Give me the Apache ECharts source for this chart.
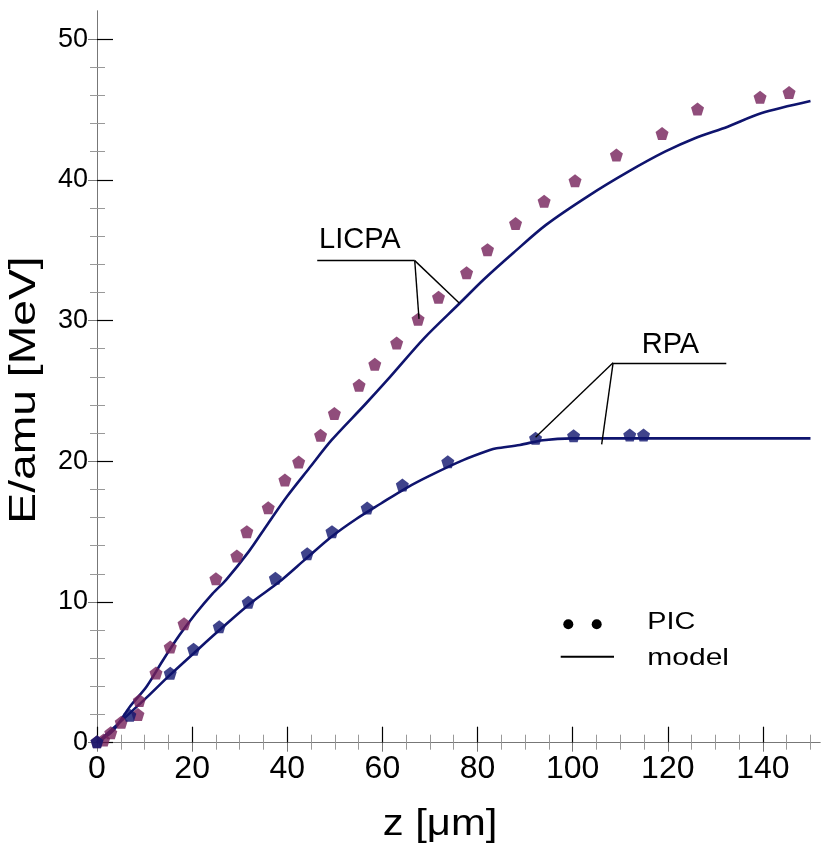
<!DOCTYPE html>
<html>
<head>
<meta charset="utf-8">
<script src="https://cdn.jsdelivr.net/npm/echarts@6/dist/echarts.min.js"></script>
<style>html,body{margin:0;padding:0;background:#fff}#c{width:823px;height:845px}</style>
</head>
<body>
<div id="c"></div>
<script>
// ---- data ----
var xTicks = [0, 20, 40, 60, 80, 100, 120, 140];
var yTicks = [0, 10, 20, 30, 40, 50];
var licpaPIC_z = [0, 1.4, 2.9, 5.1, 8.6, 8.9, 12.4, 15.4, 18.3, 25.0, 29.4, 31.5, 36.0, 39.5, 42.4, 47.0, 49.9, 55.1, 58.4, 63.0, 67.5, 71.8, 77.7, 82.1, 88.0, 94.0, 100.5, 109.2, 118.8, 126.25, 139.4, 145.5];
var licpaPIC_E = [0.07, 0.2, 0.7, 1.45, 2.0, 3.0, 4.95, 6.8, 8.45, 11.65, 13.27, 15.0, 16.7, 18.67, 19.95, 21.85, 23.4, 25.4, 26.9, 28.4, 30.1, 31.66, 33.4, 35.04, 36.9, 38.48, 39.94, 41.77, 43.3, 45.04, 45.87, 46.2];
var rpaPIC_z = [0, 6.9, 15.4, 20.3, 25.7, 31.8, 37.5, 44.2, 49.4, 56.8, 64.2, 73.75, 92.2, 100.2, 112.0, 114.9];
var rpaPIC_E = [0.07, 1.95, 4.93, 6.64, 8.24, 9.98, 11.68, 13.43, 15.0, 16.68, 18.32, 19.97, 21.63, 21.82, 21.87, 21.87];
var licpaModel_z = [0, 3.5, 6.9, 10.4, 13.9, 17.35, 20.8, 24.3, 27.1, 31.9, 35.9, 39.9, 44.6, 49.3, 56.25, 61.1, 68.75, 76.25, 81.25, 87.5, 94.4, 103.5, 111.8, 119.4, 125.7, 132.6, 139.6, 150];
var licpaModel_E = [0, 0.9, 2.56, 3.98, 5.88, 7.65, 9.2, 10.6, 11.56, 13.58, 15.55, 17.48, 19.5, 21.5, 24.0, 25.8, 28.74, 31.23, 32.9, 34.8, 36.8, 38.9, 40.6, 42.0, 42.96, 43.78, 44.73, 45.6];
var rpaModel_z = [0, 3, 6.9, 10.4, 15.3, 20.8, 26.4, 32.6, 38.2, 44, 49.3, 54.5, 59.7, 65, 70.1, 77.1, 82.6, 84, 88.9, 93.75, 100, 150];
var rpaModel_E = [0, 0.9, 2.1, 3.2, 4.8, 6.5, 8.2, 10.0, 11.4, 13.1, 14.64, 15.9, 17.0, 18.1, 19.0, 20.1, 20.8, 20.92, 21.16, 21.5, 21.63, 21.63];
// annotation connectors (data coordinates)
var licpaLabel = {text: 'LICPA', z: 46.3, E: 34.26, zEnd: 66.8, branch: 66.8, targets: [[67.7, 30.12], [76.2, 31.23]]};
var rpaLabel = {text: 'RPA', z: 108.5, E: 27.0, zEnd: 132.3, branch: 108.5, targets: [[92.2, 21.7], [106.1, 21.2]]};

function zip(a, b) { return a.map(function (v, i) { return [v, b[i]]; }); }

var PURPLE = '#74205a', BLUE = '#0f146e';
var pent = 'path://M0,-10 L9.51,-3.09 L5.88,8.09 L-5.88,8.09 L-9.51,-3.09 Z';

function connectors(L) {
  var d = [[{coord: [L.z, L.E]}, {coord: [L.zEnd, L.E]}]];
  L.targets.forEach(function (t) { d.push([{coord: [L.branch, L.E]}, {coord: t}]); });
  return d;
}

var chart = echarts.init(document.getElementById('c'), null, {renderer: 'canvas'});
var FONT = '"Liberation Sans", Arial, sans-serif';
var NARROW = '"Liberation Sans Narrow", "Arial Narrow", "Liberation Sans", sans-serif';
var option = {
  animation: false,
  grid: {left: 97, top: 11, width: 729.6, height: 731.7, containLabel: false},
  xAxis: [
    {type: 'value', position: 'bottom', min: 0, max: 152, interval: 20, splitLine: {show: false},
      axisLine: {lineStyle: {color: '#777'}},
      axisTick: {show: true, inside: true, length: 16, customValues: xTicks, lineStyle: {color: '#000', width: 1.2}},
      minorTick: {show: true, splitNumber: 4, length: 8, lineStyle: {color: '#999'}},
      axisLabel: {fontSize: 32, color: '#000', fontFamily: NARROW, margin: 10,
        formatter: function (v) { return xTicks.indexOf(v) >= 0 ? String(v) : ''; }}},
    {type: 'value', position: 'top', min: 0, max: 152, interval: 20, splitLine: {show: false},
      axisLine: {lineStyle: {color: '#777'}},
      axisTick: {show: true, inside: true, length: 9, customValues: xTicks, lineStyle: {color: '#777'}},
      minorTick: {show: true, splitNumber: 4, length: 7, lineStyle: {color: '#999'}},
      axisLabel: {show: false}}
  ],
  yAxis: [
    {type: 'value', position: 'left', min: 0, max: 52, interval: 10, splitLine: {show: false},
      axisLine: {lineStyle: {color: '#777'}},
      axisTick: {show: true, inside: true, length: 16, customValues: yTicks, lineStyle: {color: '#000', width: 1.2}},
      minorTick: {show: true, splitNumber: 5, length: 8, lineStyle: {color: '#999'}},
      axisLabel: {fontSize: 27, color: '#000', fontFamily: FONT, margin: 9,
        formatter: function (v) { return yTicks.indexOf(v) >= 0 ? String(v) : ''; }}},
    {type: 'value', position: 'right', min: 0, max: 52, interval: 10, splitLine: {show: false},
      axisLine: {lineStyle: {color: '#777'}},
      axisTick: {show: true, inside: true, length: 9, customValues: yTicks, lineStyle: {color: '#777'}},
      minorTick: {show: true, splitNumber: 5, length: 7, lineStyle: {color: '#999'}},
      axisLabel: {show: false}}
  ],
  series: [
    {type: 'line', data: zip(licpaModel_z, licpaModel_E), symbol: 'none', smooth: 0.3,
      lineStyle: {color: BLUE, width: 2.6}, z: 2,
      markLine: {silent: true, symbol: 'none', label: {show: false},
        lineStyle: {color: '#000', width: 1.4, type: 'solid'}, data: connectors(licpaLabel)}},
    {type: 'line', data: zip(rpaModel_z, rpaModel_E), symbol: 'none', smooth: 0.3,
      lineStyle: {color: BLUE, width: 2.6}, z: 2,
      markLine: {silent: true, symbol: 'none', label: {show: false},
        lineStyle: {color: '#000', width: 1.4, type: 'solid'}, data: connectors(rpaLabel)}},
    {type: 'scatter', data: zip(licpaPIC_z, licpaPIC_E), symbol: pent, symbolSize: 13,
      itemStyle: {color: PURPLE}, z: 3},
    {type: 'scatter', data: zip(rpaPIC_z, rpaPIC_E), symbol: pent, symbolSize: 13,
      itemStyle: {color: BLUE}, z: 3}
  ],
  graphic: [
    {type: 'text', x: 319, y: 239.5, style: {text: licpaLabel.text, font: '29px ' + FONT, fill: '#000', textVerticalAlign: 'middle'}},
    {type: 'text', x: 641.7, y: 345, style: {text: rpaLabel.text, font: '29px ' + FONT, fill: '#000', textVerticalAlign: 'middle'}},
    {type: 'circle', shape: {cx: 568.3, cy: 624.3, r: 5}, style: {fill: '#000'}},
    {type: 'circle', shape: {cx: 596.7, cy: 624.3, r: 5}, style: {fill: '#000'}},
    {type: 'text', x: 647.3, y: 622, scaleX: 1.2, style: {text: 'PIC', font: '24px ' + FONT, fill: '#000', textVerticalAlign: 'middle'}},
    {type: 'line', shape: {x1: 560.7, y1: 656.7, x2: 614, y2: 656.7}, style: {stroke: '#000', lineWidth: 2}},
    {type: 'text', x: 647.3, y: 658, scaleX: 1.25, style: {text: 'model', font: '24px ' + FONT, fill: '#000', textVerticalAlign: 'middle'}},
    {type: 'text', x: 440, y: 825, scaleX: 1.13, style: {text: 'z [\u03bcm]', font: '37px ' + FONT, fill: '#000', textAlign: 'center', textVerticalAlign: 'middle'}},
    {type: 'text', x: 25, y: 390, rotation: Math.PI / 2, scaleX: 1.25, style: {text: 'E/amu [MeV]', font: '37px ' + FONT, fill: '#000', textAlign: 'center', textVerticalAlign: 'middle'}}
  ]
};
chart.setOption(option);
</script>
</body>
</html>
